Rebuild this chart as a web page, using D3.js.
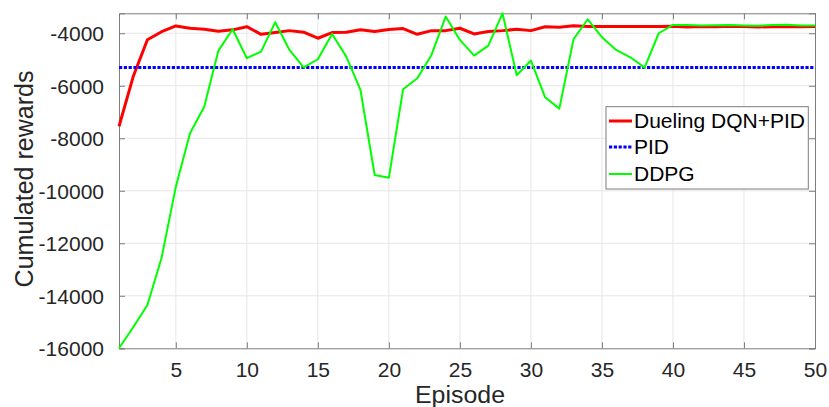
<!DOCTYPE html>
<html>
<head>
<meta charset="utf-8">
<script src="https://cdn.jsdelivr.net/npm/d3@7"></script>
<style>
  html, body { margin: 0; padding: 0; background: #fff; }
  svg { display: block; font-family: "Liberation Sans", Arial, sans-serif; }
</style>
</head>
<body>
<svg id="chart" width="829" height="407"></svg>
<script>
const episodes = [1,2,3,4,5,6,7,8,9,10,11,12,13,14,15,16,17,18,19,20,21,22,23,24,25,26,27,28,29,30,31,32,33,34,35,36,37,38,39,40,41,42,43,44,45,46,47,48,49,50];
const duelingDqnPid = [-7550, -5650, -4250, -3940, -3720, -3810, -3850, -3920, -3870, -3750,
  -4040, -3975, -3900, -3960, -4190, -3975, -3960, -3870, -3935, -3860,
  -3820, -4040, -3900, -3900, -3810, -4025, -3935, -3900, -3850, -3900,
  -3750, -3770, -3710, -3745, -3745, -3745, -3745, -3740, -3745, -3730,
  -3760, -3740, -3755, -3735, -3745, -3760, -3750, -3745, -3755, -3740];
const pidReward = -5300;
const ddpg = [-16000, -15200, -14350, -12550, -9850, -7810, -6800, -4660, -3850, -4950,
  -4700, -3580, -4635, -5300, -4990, -4025, -4890, -6160, -9400, -9500,
  -6135, -5715, -4825, -3365, -4254, -4850, -4470, -3240, -5600, -5040,
  -6440, -6870, -4230, -3467, -4150, -4636, -4915, -5310, -4000, -3684,
  -3690, -3700, -3695, -3685, -3700, -3710, -3690, -3680, -3700, -3705];
const xTicks = [5, 10, 15, 20, 25, 30, 35, 40, 45, 50];
const yTicks = [-16000, -14000, -12000, -10000, -8000, -6000, -4000];
const legendLabels = ["Dueling DQN+PID", "PID", "DDPG"];

const svg = d3.select("#chart");
const L = 119, R = 815, T = 13.3, B = 348.3;
const x = d3.scaleLinear().domain([1, 50]).range([L, R]);
const y = d3.scaleLinear().domain([-16000, d3.max(ddpg)]).range([B, T]);
const axisColor = "#7d7d7d";
const textColor = "#262626";

// grid
const grid = svg.append("g");
grid.selectAll(".gx").data(xTicks.filter(d => d < 50)).join("line")
  .attr("x1", d => x(d)).attr("x2", d => x(d)).attr("y1", T).attr("y2", B)
  .attr("stroke", "#e6e6e6").attr("stroke-width", 1);
grid.selectAll(".gy").data(yTicks.filter(d => d > -16000)).join("line")
  .attr("x1", L).attr("x2", R).attr("y1", d => y(d)).attr("y2", d => y(d))
  .attr("stroke", "#e6e6e6").attr("stroke-width", 1);

// axes
const tickLen = 6;
const xAxisB = d3.axisBottom(x).tickValues(xTicks).tickSize(-tickLen).tickPadding(0).tickFormat(d3.format("d"));
const xAxisT = d3.axisTop(x).tickValues(xTicks).tickSize(-tickLen).tickFormat("");
const yAxisL = d3.axisLeft(y).tickValues(yTicks).tickSize(-tickLen).tickPadding(tickLen + 9).tickFormat(d => d3.format("d")(d).replace("−", "-"));
const yAxisR = d3.axisRight(y).tickValues(yTicks).tickSize(-tickLen).tickFormat("");

function styleAxis(g) {
  g.select(".domain").attr("stroke", axisColor).attr("stroke-width", 1);
  g.selectAll(".tick line").attr("stroke", axisColor);
  g.selectAll("text").attr("fill", textColor).style("font-size", "21px")
    .style("font-family", "'Liberation Sans', Arial, sans-serif");
}
const gB = svg.append("g").attr("transform", `translate(0,${B})`).call(xAxisB).call(styleAxis);
gB.selectAll("text").attr("y", 377.5 - B).attr("dy", null);
svg.append("g").attr("transform", `translate(0,${T})`).call(xAxisT).call(styleAxis);
const gL = svg.append("g").attr("transform", `translate(${L},0)`).call(yAxisL).call(styleAxis);
gL.selectAll("text").attr("dy", "0.35em");
svg.append("g").attr("transform", `translate(${R},0)`).call(yAxisR).call(styleAxis);

// series
const line = d3.line().x((d, i) => x(episodes[i])).y(d => y(d));
svg.append("path").datum(duelingDqnPid).attr("d", line)
  .attr("fill", "none").attr("stroke", "#ff0000").attr("stroke-width", 3).attr("stroke-linejoin", "round");
svg.append("line")
  .attr("x1", x(episodes[0])).attr("x2", x(episodes[episodes.length - 1]))
  .attr("y1", y(pidReward)).attr("y2", y(pidReward))
  .attr("stroke", "#0000ff").attr("stroke-width", 3).attr("stroke-dasharray", "3.2,1.6");
svg.append("path").datum(ddpg).attr("d", line)
  .attr("fill", "none").attr("stroke", "#00ff00").attr("stroke-width", 2).attr("stroke-linejoin", "round");

// axis labels
svg.append("text").attr("x", 460).attr("y", 403).attr("text-anchor", "middle")
  .attr("textLength", 90).attr("lengthAdjust", "spacingAndGlyphs")
  .attr("fill", textColor).style("font-size", "23px").text("Episode");
svg.append("text").attr("transform", "translate(33,179) rotate(-90)").attr("text-anchor", "middle")
  .attr("fill", textColor).style("font-size", "25px").text("Cumulated rewards");

// legend
const lg = svg.append("g");
lg.append("rect").attr("x", 606).attr("y", 106.7).attr("width", 202.3).attr("height", 82.3)
  .attr("fill", "#fff").attr("stroke", axisColor).attr("stroke-width", 1);
const rowsY = [121, 147, 174];
const styles = [
  {c: "#ff0000", w: 3, dash: null},
  {c: "#0000ff", w: 3, dash: "3.2,1.6"},
  {c: "#00ff00", w: 2, dash: null}
];
legendLabels.forEach((lab, i) => {
  lg.append("line").attr("x1", 609).attr("x2", 632).attr("y1", rowsY[i]).attr("y2", rowsY[i])
    .attr("stroke", styles[i].c).attr("stroke-width", styles[i].w)
    .attr("stroke-dasharray", styles[i].dash);
  lg.append("text").attr("x", 634).attr("y", rowsY[i]).attr("dy", "0.35em")
    .attr("fill", "#000").style("font-size", "21px").text(lab);
});
</script>
</body>
</html>
